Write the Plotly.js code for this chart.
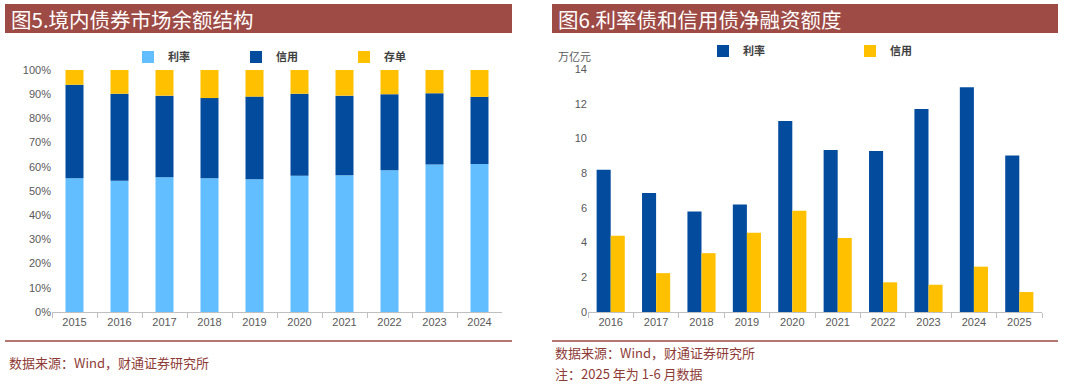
<!DOCTYPE html>
<html>
<head>
<meta charset="utf-8">
<script src="https://cdn.plot.ly/plotly-3.0.1.min.js"></script>
<style>html,body{margin:0;padding:0;background:#fff}#chart{width:1080px;height:385px}</style>
</head>
<body>
<div id="chart"></div>
<script>
// Left chart: bond market outstanding structure (%)
const yearsLeft = ['2015','2016','2017','2018','2019','2020','2021','2022','2023','2024'];
const rateShare   = [55.3, 54.2, 55.7, 55.3, 54.9, 56.3, 56.5, 58.6, 60.9, 61.2];
const creditShare = [38.6, 36.0, 33.7, 33.1, 34.1, 33.9, 32.9, 31.4, 29.5, 27.7];
const cdShare     = [6.1, 9.8, 10.6, 11.6, 11.0, 9.8, 10.6, 10.0, 9.6, 11.1];
const leftYTicks = [0,10,20,30,40,50,60,70,80,90,100];

// Right chart: net financing (trillion yuan)
const yearsRight = ['2016','2017','2018','2019','2020','2021','2022','2023','2024','2025'];
const rateNet   = [8.19, 6.85, 5.79, 6.19, 11.01, 9.34, 9.28, 11.70, 12.95, 9.01];
const creditNet = [4.39, 2.24, 3.39, 4.56, 5.83, 4.26, 1.71, 1.57, 2.61, 1.15];
const rightYTicks = [0,2,4,6,8,10,12,14];

const W = 1080, H = 385;
const px = x => x / W;
const py = y => 1 - y / H;

const cLight = '#63BEFF', cDark = '#034C9D', cYellow = '#FFC000';
const banner = '#9E4A45', srcColor = '#8E3B36';
const tickFont = {family: 'Liberation Sans, Arial, sans-serif', size: 11, color: '#595959'};
const cjk = 'Noto Sans CJK SC, sans-serif';

const base2 = rateShare.map((v, i) => v + creditShare[i]);

const traces = [
  {type: 'bar', name: '利率', x: yearsLeft, y: rateShare, base: 0, offset: -0.2, width: 0.4,
   marker: {color: cLight}, xaxis: 'x', yaxis: 'y', legend: 'legend', hoverinfo: 'skip'},
  {type: 'bar', name: '信用', x: yearsLeft, y: creditShare, base: rateShare, offset: -0.2, width: 0.4,
   marker: {color: cDark}, xaxis: 'x', yaxis: 'y', legend: 'legend', hoverinfo: 'skip'},
  {type: 'bar', name: '存单', x: yearsLeft, y: cdShare, base: base2, offset: -0.2, width: 0.4,
   marker: {color: cYellow}, xaxis: 'x', yaxis: 'y', legend: 'legend', hoverinfo: 'skip'},
  {type: 'bar', name: '利率', x: yearsRight, y: rateNet, offset: -0.31, width: 0.31,
   marker: {color: cDark}, xaxis: 'x2', yaxis: 'y2', legend: 'legend2', hoverinfo: 'skip'},
  {type: 'bar', name: '信用', x: yearsRight, y: creditNet, offset: 0, width: 0.31,
   marker: {color: cYellow}, xaxis: 'x2', yaxis: 'y2', legend: 'legend2', hoverinfo: 'skip'}
];

const xCommon = {type: 'category', showgrid: false, showline: true, linecolor: '#BFBFBF', linewidth: 1,
  ticks: 'outside', tickson: 'boundaries', ticklen: 5, tickcolor: '#BFBFBF', tickfont: tickFont, fixedrange: true};
const yCommon = {showgrid: false, zeroline: false, showline: false, ticks: '', tickfont: tickFont, fixedrange: true};

const layout = {
  width: W, height: H,
  margin: {l: 0, r: 0, t: 0, b: 0},
  paper_bgcolor: '#ffffff', plot_bgcolor: '#ffffff',
  barmode: 'overlay',
  showlegend: true,
  xaxis: Object.assign({}, xCommon, {domain: [px(52), px(502)], anchor: 'y'}),
  yaxis: Object.assign({}, yCommon, {domain: [py(312), py(70)], range: [0, 100], tickvals: leftYTicks,
    ticktext: leftYTicks.map(v => v + '%'), anchor: 'x'}),
  xaxis2: Object.assign({}, xCommon, {domain: [px(588), px(1042)], anchor: 'y2'}),
  yaxis2: Object.assign({}, yCommon, {domain: [py(312), py(69)], range: [0, 14], tickvals: rightYTicks, anchor: 'x2'}),
  legend: {orientation: 'h', x: px(128), y: py(57), xanchor: 'left', yanchor: 'middle',
    font: {family: cjk, size: 11, color: '#404040', weight: 'bold'}, entrywidth: 63, entrywidthmode: 'pixels',
    itemwidth: 30, bgcolor: 'rgba(0,0,0,0)', traceorder: 'normal'},
  legend2: {orientation: 'h', x: px(703), y: py(51), xanchor: 'left', yanchor: 'middle',
    font: {family: cjk, size: 11, color: '#404040', weight: 'bold'}, entrywidth: 102, entrywidthmode: 'pixels',
    itemwidth: 30, bgcolor: 'rgba(0,0,0,0)', traceorder: 'normal'},
  shapes: [
    {type: 'rect', xref: 'paper', yref: 'paper', x0: px(5), x1: px(512), y0: py(33), y1: py(4), fillcolor: banner, line: {width: 0}, layer: 'below'},
    {type: 'rect', xref: 'paper', yref: 'paper', x0: px(552), x1: px(1058), y0: py(33), y1: py(4), fillcolor: banner, line: {width: 0}, layer: 'below'},
    {type: 'line', xref: 'paper', yref: 'paper', x0: px(5), x1: px(512), y0: py(341), y1: py(341), line: {color: banner, width: 1.5}},
    {type: 'line', xref: 'paper', yref: 'paper', x0: px(552), x1: px(1058), y0: py(341), y1: py(341), line: {color: banner, width: 1.5}}
  ],
  annotations: [
    {xref: 'paper', yref: 'paper', x: px(9), y: py(19), xanchor: 'left', yanchor: 'middle', showarrow: false,
     text: '图5.境内债券市场余额结构', font: {family: cjk, size: 20.5, color: '#ffffff'}},
    {xref: 'paper', yref: 'paper', x: px(556), y: py(19), xanchor: 'left', yanchor: 'middle', showarrow: false,
     text: '图6.利率债和信用债净融资额度', font: {family: cjk, size: 20.5, color: '#ffffff'}},
    {xref: 'paper', yref: 'paper', x: px(556), y: py(56), xanchor: 'left', yanchor: 'middle', showarrow: false,
     text: '万亿元', font: {family: cjk, size: 11, color: '#595959'}},
    {xref: 'paper', yref: 'paper', x: px(7), y: py(362), xanchor: 'left', yanchor: 'middle', showarrow: false,
     text: '数据来源：Wind，财通证券研究所', font: {family: cjk, size: 13, color: srcColor}},
    {xref: 'paper', yref: 'paper', x: px(553), y: py(352), xanchor: 'left', yanchor: 'middle', showarrow: false,
     text: '数据来源：Wind，财通证券研究所', font: {family: cjk, size: 13, color: srcColor}},
    {xref: 'paper', yref: 'paper', x: px(553), y: py(373), xanchor: 'left', yanchor: 'middle', showarrow: false,
     text: '注：2025 年为 1-6 月数据', font: {family: cjk, size: 13, color: srcColor}}
  ]
};

Plotly.newPlot('chart', traces, layout, {displayModeBar: false, staticPlot: true});
</script>
</body>
</html>
